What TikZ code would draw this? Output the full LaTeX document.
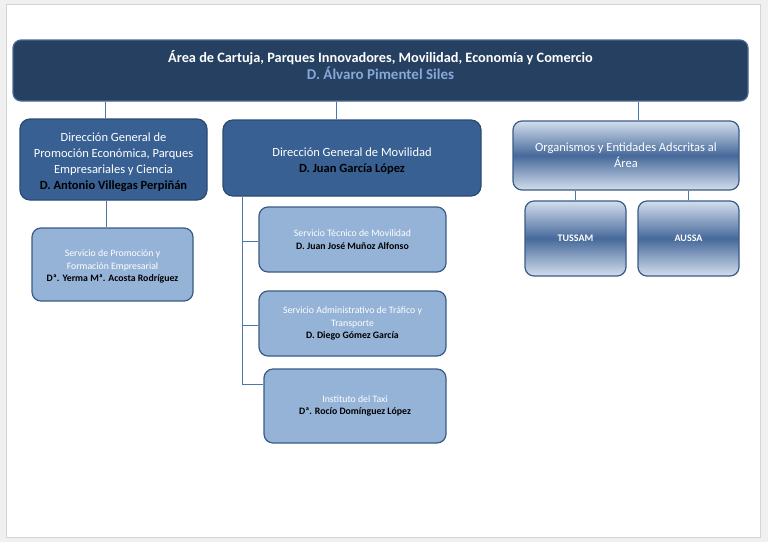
\documentclass[tikz,border=0pt]{standalone}
\usepackage{fontspec}
\setmainfont{Carlito}
\usepackage{tikz}
\definecolor{fondogris}{HTML}{F0F0F0}
\definecolor{bordegris}{HTML}{D4D4D4}
\definecolor{areafondo}{HTML}{254061}
\definecolor{areaborde}{HTML}{4A6A94}
\definecolor{nombreclaro}{HTML}{86A9D8}
\definecolor{dirfondo}{HTML}{386092}
\definecolor{dirborde}{HTML}{2A4A72}
\definecolor{servfondo}{HTML}{95B3D7}
\definecolor{servborde}{HTML}{3A5B86}
\definecolor{orgclaro}{HTML}{D3DEED}
\definecolor{orgoscuro}{HTML}{46699A}
\definecolor{linea}{HTML}{4F76A8}
\tikzstyle{area} = [draw=areaborde, line width=1.2pt, fill=areafondo, rounded corners=8pt,
  inner sep=0pt, text=white, align=center, font=\fontsize{14.3}{17}\selectfont\bfseries]
\tikzstyle{dir} = [draw=dirborde, line width=1.2pt, fill=dirfondo, rounded corners=10pt,
  inner sep=0pt, text=white, align=center, font=\fontsize{12.5}{16}\selectfont]
\tikzstyle{serv} = [draw=servborde, line width=1.2pt, fill=servfondo, rounded corners=9pt,
  inner sep=0pt, text=white, align=center, font=\fontsize{9.8}{12.5}\selectfont]
\tikzstyle{org} = [draw=servborde, line width=1.2pt, rounded corners=9pt, top color=orgclaro,
  bottom color=orgclaro, middle color=orgoscuro, inner sep=0pt, text=white, align=center]
\tikzstyle{union} = [draw=linea, line width=0.9pt]

\begin{document}
\begin{tikzpicture}[x=1pt, y=-1pt]
	\fill[fondogris] (0,0) rectangle (768,542);
	\draw[bordegris, fill=white] (6,4) rectangle (760,537);
	\useasboundingbox (0,0) rectangle (768,542);

	\node[area, minimum width=735pt, minimum height=61pt] (area) at (380.5,70.5)
	    {Área de Cartuja, Parques Innovadores, Movilidad, Economía y Comercio\\
	     {\fontsize{15}{17}\selectfont\color{nombreclaro}D. Álvaro Pimentel Siles}\rule[-11pt]{0pt}{1pt}};

	\node[dir, minimum width=187pt, minimum height=81pt] (dgpe) at (113.5,159.5)
	    {\rule{0pt}{14pt}Dirección General de\\Promoción Económica, Parques\\Empresariales y Ciencia\\
	     {\color{black}\bfseries D. Antonio Villegas Perpiñán}};
	\node[dir, minimum width=258pt, minimum height=76pt] (dgm) at (352,158)
	    {\rule{0pt}{14pt}Dirección General de Movilidad\\
	     {\color{black}\bfseries D. Juan García López}};
	\node[org, minimum width=226pt, minimum height=69pt,
	      font=\fontsize{12.5}{16}\selectfont] (org) at (626,155.5)
	    {Organismos y Entidades Adscritas al\\Área};

	\node[org, minimum width=101pt, minimum height=75pt,
	      font=\fontsize{10}{12}\selectfont\bfseries] (tussam) at (575.5,238.5) {TUSSAM};
	\node[org, minimum width=101pt, minimum height=75pt,
	      font=\fontsize{10}{12}\selectfont\bfseries] (aussa) at (688.5,238.5) {AUSSA};

	\node[serv, minimum width=161pt, minimum height=73pt] (spfe) at (112.5,264.5)
	    {\rule{0pt}{11pt}Servicio de Promoción y\\Formación Empresarial\\
	     {\color{black}\bfseries Dª. Yerma Mª. Acosta Rodríguez}};
	\node[serv, minimum width=187pt, minimum height=65pt] (stm) at (352.5,239.5)
	    {Servicio Técnico de Movilidad\\
	     {\color{black}\bfseries D. Juan José Muñoz Alfonso}};
	\node[serv, minimum width=187pt, minimum height=65pt] (sat) at (352.5,323.5)
	    {Servicio Administrativo de Tráfico y\\Transporte\\
	     {\color{black}\bfseries D. Diego Gómez García}};
	\node[serv, minimum width=182pt, minimum height=74pt] (taxi) at (355,406)
	    {Instituto del Taxi\\
	     {\color{black}\bfseries Dª. Rocío Domínguez López}};

	% uniones
	\draw[union] ([xshift=-8pt]dgpe.north) -- ([xshift=-8pt]dgpe.north |- area.south);
	\draw[union] ([xshift=-16pt]dgm.north) -- ([xshift=-16pt]dgm.north |- area.south);
	\draw[union] ([xshift=12pt]org.north) -- ([xshift=12pt]org.north |- area.south);
	\draw[union] ([xshift=-6pt]spfe.north) -- ([xshift=-6pt]spfe.north |- dgpe.south);
	\draw[union] (tussam.north) -- (tussam.north |- org.south);
	\draw[union] (aussa.north) -- (aussa.north |- org.south);
	\draw[union] ([xshift=-110pt]dgm.south) |- ([yshift=22pt]taxi.west);
	\draw[union] ([yshift=-2pt]stm.west) -- ([xshift=-110pt, yshift=-2pt]stm.west -| dgm.south);
	\draw[union] ([yshift=-2pt]sat.west) -- ([xshift=-110pt, yshift=-2pt]sat.west -| dgm.south);
\end{tikzpicture}
\end{document}
